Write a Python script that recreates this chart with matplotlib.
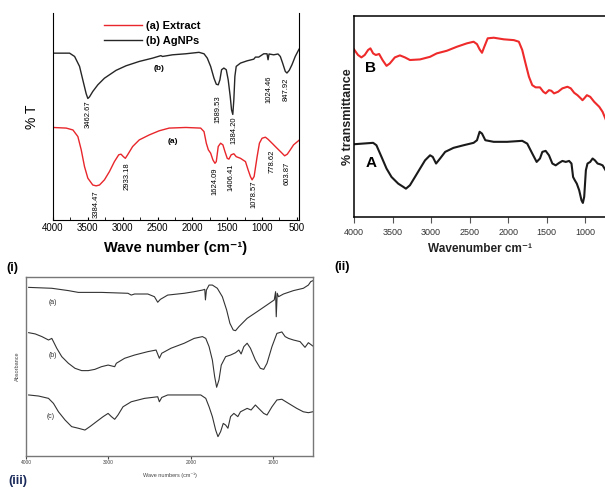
import matplotlib
matplotlib.use('Agg')
import matplotlib.pyplot as plt

plt.rcParams['font.family'] = ['Liberation Sans', 'DejaVu Sans']

# ---- panel (i): FTIR of extract and AgNPs (%T, arbitrary units) ----
wn_b = [4000, 3762, 3690, 3619, 3571, 3524, 3500, 3476, 3429, 3357, 3262, 3095, 2952,
        2762, 2571, 2452, 2429, 2286, 2095, 1905, 1833, 1786, 1738, 1690, 1657, 1629,
        1605, 1581, 1548, 1514, 1486, 1457, 1438, 1420, 1405, 1390, 1371, 1310, 1214,
        1119, 1095, 1048, 976, 929, 914, 900, 833, 771, 738, 705, 667, 643, 610, 571,
        524, 470]
t_b = [80.6, 80.6, 79.0, 74.2, 67.5, 61.0, 58.7, 59.5, 62.1, 65.3, 68.5, 72.3, 74.5,
       76.6, 78.2, 79.4, 79.0, 79.8, 80.3, 81.0, 80.3, 78.2, 74.2, 68.5, 65.6, 65.3,
       67.7, 72.6, 73.4, 72.6, 67.7, 59.7, 53.2, 51.0, 58.1, 69.4, 74.2, 75.8, 76.9,
       77.7, 78.7, 78.7, 80.3, 80.3, 77.4, 80.2, 79.8, 80.2, 79.0, 75.8, 71.8, 71.0,
       72.3, 75.0, 79.0, 82.5]
wn_a = [4000, 3810, 3714, 3643, 3595, 3548, 3500, 3429, 3381, 3333, 3262, 3190, 3119,
        3057, 3024, 2990, 2962, 2929, 2857, 2762, 2619, 2476, 2333, 2095, 1881, 1833,
        1800, 1771, 1738, 1705, 1676, 1657, 1629, 1595, 1562, 1533, 1500, 1476, 1443,
        1405, 1371, 1310, 1238, 1200, 1167, 1143, 1114, 1071, 1038, 1000, 952, 914,
        881, 848, 810, 762, 714, 676, 638, 595, 548, 470]
t_a = [44.7, 44.4, 43.5, 40.3, 33.9, 25.8, 20.2, 16.9, 16.5, 16.9, 19.4, 23.4, 28.2,
       31.5, 31.8, 30.6, 29.8, 31.5, 35.5, 38.7, 41.1, 43.1, 44.4, 44.7, 44.4, 42.7,
       37.1, 33.9, 32.3, 29.0, 27.4, 28.2, 35.5, 37.1, 36.3, 33.1, 29.8, 29.4, 31.5,
       32.0, 30.6, 29.8, 28.2, 24.2, 21.0, 19.4, 21.0, 30.6, 37.1, 39.5, 40.0, 39.0,
       37.9, 36.8, 35.5, 33.9, 32.3, 31.0, 31.8, 33.9, 36.3, 38.5]
peaks_b = ['3462.67', '1589.53', '1384.20', '1024.46', '847.92']
peaks_b_pos = [(3500, 58), (1638, 60.4), (1400, 49.8), (900, 69.6), (653, 68.6)]
peaks_a = ['3384.47', '2933.18', '1624.09', '1406.41', '1078.57', '778.62', '603.87']
peaks_a_pos = [(3376, 14.5), (2939, 28), (1671, 25.6), (1447, 27.5), (1114, 19.3),
               (853, 33.8), (639, 28)]

# ---- panel (ii): % transmittance ----
wn_B = [4000, 3948, 3904, 3861, 3817, 3787, 3752, 3717, 3674, 3630, 3578, 3535, 3470,
        3404, 3339, 3274, 3143, 3013, 2926, 2796, 2665, 2535, 2448, 2404, 2370, 2339,
        2309, 2265, 2187, 2057, 1926, 1861, 1817, 1774, 1730, 1687, 1643, 1587, 1543,
        1513, 1470, 1439, 1404, 1352, 1296, 1230, 1187, 1143, 1100, 1057, 1035, 1013,
        978, 935, 883, 817, 774, 730]
T_B = [83.4, 80.6, 79.4, 80.6, 83.1, 83.9, 81.4, 80.6, 81.1, 78.1, 75.2, 76.4, 79.4,
       80.4, 79.4, 78.1, 78.4, 79.7, 81.4, 82.7, 84.7, 86.4, 87.2, 86.0, 83.4, 81.7,
       84.7, 88.9, 89.2, 88.4, 88.0, 87.2, 83.1, 76.4, 69.8, 65.6, 64.5, 64.5, 62.3,
       61.5, 63.1, 62.8, 61.5, 62.3, 64.0, 64.8, 64.0, 61.8, 60.6, 59.0, 58.1, 59.0,
       60.6, 59.8, 57.3, 54.8, 52.3, 48.2]
wn_A = [4000, 3752, 3709, 3643, 3578, 3513, 3426, 3361, 3326, 3274, 3209, 3143, 3078,
        3013, 2978, 2935, 2883, 2817, 2709, 2578, 2448, 2404, 2370, 2339, 2296, 2187,
        2013, 1817, 1752, 1687, 1630, 1587, 1556, 1513, 1470, 1426, 1383, 1339, 1296,
        1252, 1209, 1178, 1157, 1135, 1109, 1078, 1048, 1030, 1013, 991, 970, 935, 904,
        874, 839, 804, 774, 730]
T_A = [36.2, 36.9, 35.7, 29.9, 24.1, 19.9, 16.6, 15.0, 14.1, 15.8, 19.9, 24.1, 28.2,
       30.7, 29.9, 26.6, 29.1, 32.4, 34.4, 35.7, 36.9, 38.2, 42.4, 41.5, 38.2, 37.4,
       37.4, 37.9, 36.5, 31.6, 27.4, 29.1, 32.4, 32.9, 30.7, 26.6, 25.7, 26.9, 27.9,
       27.4, 27.9, 26.6, 19.9, 18.3, 16.6, 13.3, 8.3, 7.0, 10.0, 23.3, 26.6, 27.4, 29.1,
       28.2, 26.6, 26.2, 25.7, 22.9]

# ---- panel (iii): absorbance ----
wn_3a = [3968, 3687, 3486, 3365, 3084, 2763, 2723, 2683, 2522, 2442, 2402, 2370, 2281,
         2080, 1960, 1859, 1831, 1823, 1811, 1779, 1739, 1679, 1618, 1566, 1526, 1486,
         1458, 1418, 1317, 1197, 1076, 988, 972, 964, 952, 936, 876, 755, 635, 574, 546, 522]
A_3a = [94.2, 93.7, 92.4, 91.4, 91.4, 90.9, 89.9, 90.5, 90.5, 89.0, 85.9, 87.5, 89.9,
        90.9, 91.8, 92.7, 93.1, 87.2, 92.7, 95.5, 95.5, 93.7, 89.0, 81.6, 74.1, 70.4,
        70.0, 72.2, 76.9, 80.6, 84.4, 87.2, 91.8, 77.8, 90.9, 89.0, 90.5, 92.4, 93.7,
        95.5, 97.4, 97.9]
wn_3b = [3968, 3888, 3807, 3727, 3687, 3667, 3627, 3566, 3486, 3406, 3325, 3245, 3165,
         3084, 3004, 2924, 2904, 2803, 2683, 2522, 2422, 2382, 2353, 2241, 2080, 1960,
         1859, 1819, 1779, 1739, 1711, 1687, 1659, 1631, 1578, 1518, 1458, 1418, 1390,
         1357, 1317, 1277, 1217, 1157, 1116, 1076, 1016, 956, 896, 856, 815, 755, 675,
         615, 574, 522]
A_3b = [68.9, 68.2, 66.7, 64.8, 65.7, 63.9, 60.2, 55.5, 51.8, 49.0, 47.7, 47.7, 48.4,
        49.9, 50.8, 49.9, 51.8, 54.6, 56.4, 58.3, 59.2, 54.6, 57.4, 60.2, 63.0, 65.7,
        66.7, 65.7, 61.1, 53.6, 44.3, 38.4, 42.5, 50.8, 55.5, 56.4, 57.7, 59.2, 57.0,
        61.1, 63.0, 60.2, 53.6, 49.0, 48.4, 51.8, 61.1, 68.5, 69.3, 66.7, 65.7, 64.8,
        63.9, 60.7, 63.3, 61.5]
wn_3c = [3968, 3847, 3727, 3667, 3606, 3526, 3446, 3365, 3285, 3225, 3145, 3064, 3004,
         2964, 2924, 2884, 2823, 2723, 2562, 2402, 2382, 2353, 2281, 2080, 1880, 1819,
         1779, 1739, 1699, 1671, 1639, 1607, 1578, 1550, 1518, 1478, 1430, 1398, 1317,
         1269, 1217, 1177, 1116, 1076, 1016, 956, 896, 815, 715, 635, 574, 522]
A_3c = [34.1, 33.5, 32.2, 29.4, 24.7, 20.1, 16.4, 15.5, 14.5, 16.4, 19.2, 22.0, 23.8,
        22.0, 20.5, 22.9, 27.5, 30.3, 32.2, 33.1, 30.3, 32.7, 34.1, 34.1, 34.1, 32.2,
        27.5, 22.0, 14.5, 10.8, 13.6, 18.2, 17.3, 15.5, 22.0, 23.8, 22.0, 24.7, 26.6,
        25.7, 28.5, 26.6, 23.8, 22.9, 27.5, 31.3, 31.7, 29.4, 26.6, 24.7, 24.2, 24.7]

W, H = 605, 488
fig = plt.figure(figsize=(W / 100, H / 100), dpi=100)


def box(l, t, r, b):
    return [l / W, 1 - b / H, (r - l) / W, (b - t) / H]


# panel (i)
ax1 = fig.add_axes(box(53, 13, 299, 220))
ax1.plot(wn_a, t_a, color='#e8262b', lw=1.0, label='(a) Extract')
ax1.plot(wn_b, t_b, color='#262626', lw=1.0, label='(b) AgNPs')
for s, (x, y) in zip(peaks_b + peaks_a, peaks_b_pos + peaks_a_pos):
    ax1.text(x, y, s, rotation=90, ha='center', va='top', fontsize=5.5)
ax1.text(2476, 73.4, '(b)', fontsize=6, fontweight='bold', ha='center', va='center')
ax1.text(2286, 37.7, '(a)', fontsize=6, fontweight='bold', ha='center', va='center')
ax1.set_xlim(4000, 470)
ax1.set_ylim(0, 100)
ax1.set_xticks(range(4000, 499, -500))
ax1.set_xticks(range(3750, 470, -500), minor=True)
ax1.tick_params(axis='x', which='both', direction='in', length=2.5, labelsize=7, pad=2)
ax1.set_yticks([])
ax1.spines['top'].set_visible(False)
ax1.set_xlabel('Wave number (cm⁻¹)', fontsize=10.5, fontweight='bold', labelpad=6)
ax1.set_ylabel('% T', fontsize=10, labelpad=10)
ax1.legend(loc='upper left', bbox_to_anchor=(0.19, 0.985), frameon=False,
           prop={'size': 8, 'weight': 'bold'}, handlelength=3.4, handletextpad=0.4,
           labelspacing=0.45, borderaxespad=0)

# panel (ii)
ax2 = fig.add_axes(box(354, 16, 606, 217))
ax2.plot(wn_B, T_B, color='#ee2a2a', lw=1.5)
ax2.plot(wn_A, T_A, color='#1a1a1a', lw=1.5)
ax2.text(3780, 74, 'B', fontsize=11, fontweight='bold', ha='center', va='center')
ax2.text(3780, 27, 'A', fontsize=11, fontweight='bold', ha='center', va='center')
ax2.set_xlim(4000, 730)
ax2.set_ylim(0, 100)
ax2.set_xticks(range(4000, 999, -500))
ax2.set_yticks([])
ax2.tick_params(axis='x', direction='out', length=4, width=0.8, labelsize=6.5, pad=4,
                color='#555555', labelcolor='#333333')
for sp in ax2.spines.values():
    sp.set_linewidth(1.1)
ax2.spines['right'].set_visible(False)
ax2.set_xlabel('Wavenumber cm⁻¹', fontsize=8.5, fontweight='bold', labelpad=4, color='#222222')
ax2.set_ylabel('% transmittance', fontsize=9, fontweight='bold', labelpad=0, color='#222222')

# panel (iii)
ax3 = fig.add_axes(box(26, 277, 313, 456))
for wn, a in [(wn_3a, A_3a), (wn_3b, A_3b), (wn_3c, A_3c)]:
    ax3.plot(wn, a, color='#333333', lw=0.8)
ax3.text(3680, 86, '(a)', fontsize=5, color='#333333', ha='center', va='center')
ax3.text(3680, 56, '(b)', fontsize=5, color='#333333', ha='center', va='center')
ax3.text(3700, 22, '(c)', fontsize=5, color='#333333', ha='center', va='center')
ax3.set_xlim(3975, 518)
ax3.set_ylim(0, 100)
ax3.set_xticks([4000, 3000, 2000, 1000])
ax3.set_yticks([])
ax3.tick_params(axis='x', length=2, labelsize=3.5, pad=1, colors='#444444')
for sp in ax3.spines.values():
    sp.set_color('#777777')
    sp.set_linewidth(1.0)
ax3.set_xlabel('Wave numbers (cm⁻¹)', fontsize=4, labelpad=5, color='#444444')
ax3.set_ylabel('Absorbance', fontsize=4, labelpad=4, color='#444444')

fig.text(12 / W, 1 - 268 / H, '(i)', fontsize=9, fontweight='bold', ha='center', va='center')
fig.text(342 / W, 1 - 267 / H, '(ii)', fontsize=9, fontweight='bold', ha='center', va='center')
fig.text(18 / W, 1 - 481 / H, '(iii)', fontsize=9, fontweight='bold', ha='center', va='center',
         color='#1a2a5a')

fig.savefig('out.png', dpi=100)
